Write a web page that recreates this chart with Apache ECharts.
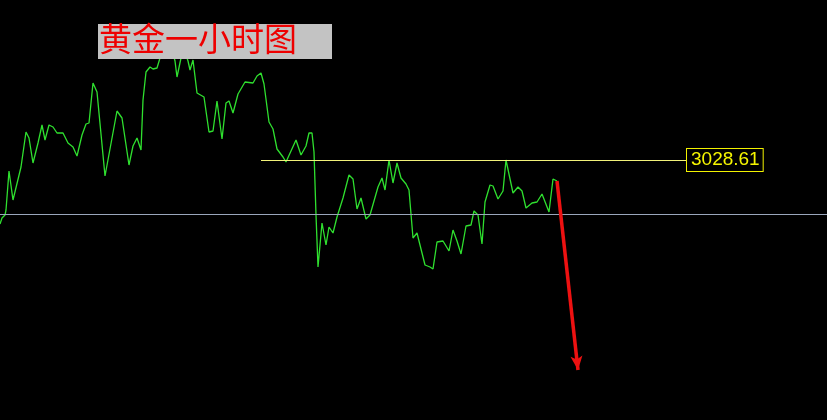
<!DOCTYPE html>
<html>
<head>
<meta charset="utf-8">
<script src="https://cdn.jsdelivr.net/npm/echarts@6/dist/echarts.min.js"></script>
<style>html,body{margin:0;padding:0;background:#000;}#c{width:827px;height:420px;}</style>
</head>
<body>
<div id="c"></div>
<script>
// time positions (hour index units) and gold prices
const times = [0,2,5,6,9,13,21,26,29,33,38,42,45,49,53,57,63,65,68,73,77,82,86,89,93,97,105,117,122,129,133,137,141,143,146,150,153,157,160,163,167,171,175,177,181,185,188,190,193,197,204,209,213,217,222,226,229,233,238,245,253,257,261,264,269,273,277,283,286,291,296,301,306,309,312,314,316,318,322,326,329,333,337,343,349,353,357,361,366,370,378,382,385,389,393,397,401,406,409,413,417,425,430,433,437,443,449,453,457,461,466,471,474,478,482,485,490,493,498,503,506,513,518,522,526,532,537,542,549,553,557];
const prices = [3015.81,3017.01,3017.61,3018.61,3026.41,3020.61,3027.21,3034.21,3033.01,3028.01,3032.01,3035.61,3032.61,3035.61,3035.21,3034.01,3034.01,3034.41,3032.01,3031.21,3029.41,3033.61,3035.81,3036.01,3044.01,3042.21,3025.41,3038.41,3037.01,3027.61,3031.41,3033.01,3030.61,3040.61,3046.21,3047.21,3046.81,3047.01,3049.01,3051.01,3050.21,3051.61,3048.41,3045.21,3049.01,3050.21,3048.41,3046.61,3048.61,3042.01,3041.21,3034.21,3034.41,3040.41,3032.81,3040.01,3040.41,3038.01,3041.81,3044.21,3044.01,3045.41,3046.01,3043.81,3036.21,3034.81,3030.81,3029.21,3028.21,3030.41,3032.61,3029.61,3031.41,3034.01,3034.01,3030.21,3017.61,3007.21,3016.01,3011.61,3015.21,3014.01,3017.21,3021.01,3025.61,3024.81,3018.81,3021.01,3016.81,3017.61,3023.21,3025.01,3022.61,3028.61,3024.01,3028.01,3025.01,3023.81,3022.61,3013.01,3014.01,3007.61,3007.21,3006.81,3012.21,3012.41,3010.41,3014.61,3012.41,3009.81,3015.41,3015.61,3018.41,3017.61,3011.81,3020.21,3023.61,3023.41,3020.81,3022.41,3028.61,3022.01,3023.21,3022.41,3019.01,3020.01,3020.21,3021.81,3018.21,3024.81,3024.41];

const resistanceLevel = 3028.61;
const resistanceStart = 261;
const resistanceEnd = 687;
const baseLevel = 3017.81;
const arrowStart = [557, 3024.41];
const arrowEnd = [578, 2986.61];
const titleText = '黄金一小时图';

const chart = echarts.init(document.getElementById('c'), null, {renderer: 'canvas'});
chart.setOption({
  backgroundColor: '#000000',
  animation: false,
  grid: {left: 0, right: 0, top: 0, bottom: 0},
  xAxis: {type: 'value', min: 0, max: 827, show: false},
  yAxis: {type: 'value', min: 2976.61, max: 3060.61, show: false},
  series: [
    {
      type: 'line',
      data: times.map((t, i) => [t, prices[i]]),
      symbol: 'none',
      lineStyle: {color: '#2fe02f', width: 1.3},
      z: 3,
      markLine: {
        silent: true,
        symbol: ['none', 'none'],
        data: [
          [{coord: [0, baseLevel], lineStyle: {color: '#9aa6bb', width: 1, type: 'solid'}, label: {show: false}},
           {coord: [827, baseLevel]}],
          [{coord: [resistanceStart, resistanceLevel], lineStyle: {color: '#f2f27a', width: 1, type: 'solid'},
            label: {show: true, position: 'end', distance: 0, formatter: String(resistanceLevel),
              color: '#f5f500', fontSize: 19, fontFamily: 'Liberation Sans', backgroundColor: '#000',
              borderColor: '#f2f200', borderWidth: 1, padding: [2, 3, 1, 4]}},
           {coord: [resistanceEnd, resistanceLevel]}]
        ]
      }
    },
    {
      type: 'line',
      data: [],
      z: 4,
      markLine: {
        silent: true,
        symbol: ['none', 'arrow'],
        symbolSize: [9, 14],
        lineStyle: {color: '#ee1111', width: 3.5, type: 'solid'},
        label: {show: false},
        data: [[{coord: arrowStart}, {coord: arrowEnd}]]
      }
    }
  ],
  graphic: [
    {
      type: 'rect', z: 100, left: 98, top: 24,
      shape: {width: 234, height: 35},
      style: {fill: '#c3c3c3'}
    },
    {
      type: 'text', z: 101, left: 99, top: 22,
      style: {text: titleText, fill: '#ee0000', font: '33px "Noto Sans CJK SC"'}
    }
  ]
});
</script>
</body>
</html>
